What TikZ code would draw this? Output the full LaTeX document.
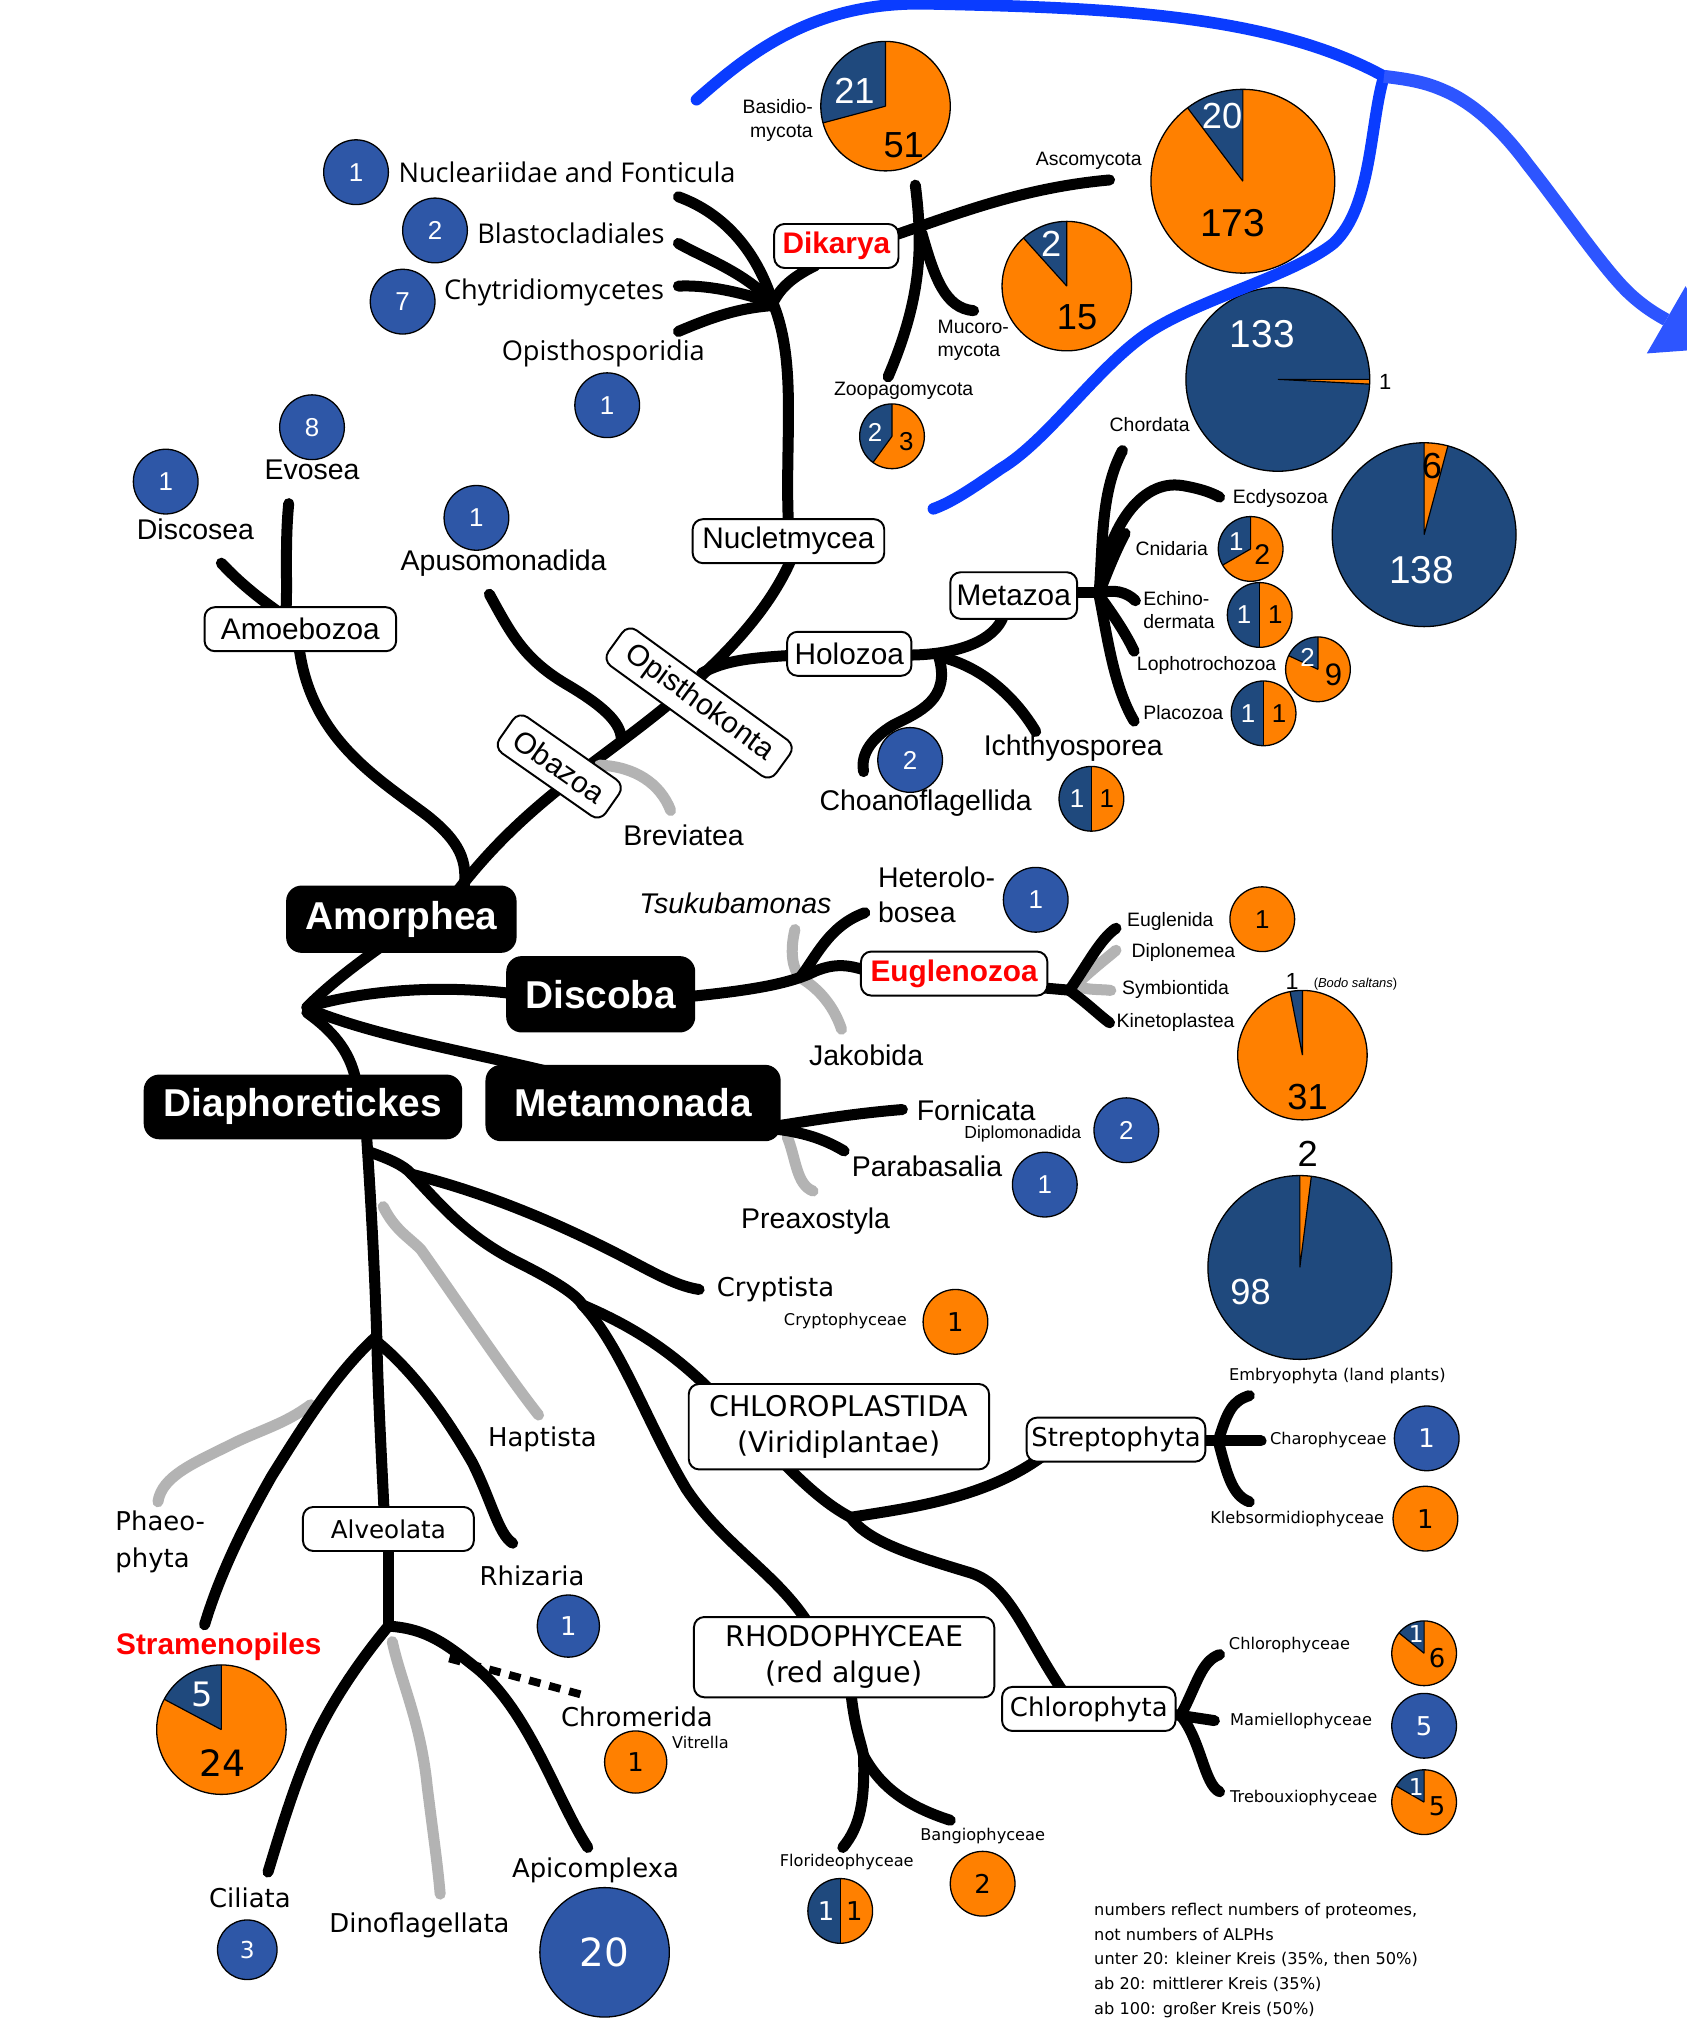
\documentclass[tikz,border=0pt]{standalone}
\usepackage{fontspec}
\setmainfont{Liberation Sans}
\newfontfamily\dvs{DejaVu Sans}
\newfontfamily\osans{Open Sans}
\definecolor{pnavy}{HTML}{1F497D}
\definecolor{pblue}{HTML}{2E57A7}
\definecolor{porange}{HTML}{FF8000}
\definecolor{lgray}{HTML}{B3B3B3}
\definecolor{abl}{HTML}{0A3CFF}
\definecolor{abl2}{HTML}{2D55FF}
\definecolor{tred}{HTML}{FF0000}
\newcommand\fsz[2]{\fontsize{#1}{#2}\selectfont}
\newcommand\mypie[5]{%
  \fill[porange] (#1,#2) circle[radius=#3pt];
  \fill[pnavy] (#1,#2) -- ++(#4:#3pt) arc[start angle=#4, end angle=#5, radius=#3pt] -- cycle;
  \draw[line width=0.9pt] (#1,#2) -- ++(#4:#3pt) (#1,#2) -- ++(#5:#3pt);
  \draw[line width=1pt] (#1,#2) circle[radius=#3pt];
}
\tikzset{
  br/.style={line width=8.5pt, line cap=round, line join=round},
  gbr/.style={br, draw=lgray},
  lbl/.style={font=\fsz{22}{26}, inner sep=0pt},
  slbl/.style={font=\fsz{15}{18}, inner sep=0pt},
  dlbl/.style={font=\dvs\fsz{20}{24}, inner sep=0pt},
  dslbl/.style={font=\dvs\fsz{12.5}{15}, inner sep=0pt},
  wbox/.style={draw, line width=1.5pt, fill=white, rounded corners=8pt, inner sep=0pt, font=\fsz{23}{26}},
  dwbox/.style={wbox, font=\dvs\fsz{20}{24}},
  bbox/.style={fill=black, rounded corners=12pt, inner sep=0pt, text=white, font=\bfseries\fsz{30}{34}},
  bc/.style={circle, fill=pblue, draw=black, line width=1pt, text=white, inner sep=0pt, minimum size=50pt, font=\fsz{20}{20}},
  oc/.style={bc, fill=porange, text=black},
  wn/.style={text=white, inner sep=0pt},
  kn/.style={text=black, inner sep=0pt},
}
\begin{document}
\begin{tikzpicture}[x=1pt,y=-1pt]
\useasboundingbox (0,0) rectangle (1303,1568);
\fill[white] (0,0) rectangle (1303,1568);

% ---------- branches (drawn first) ----------
% Fungi
\draw[br] (609,405) .. controls (606,340) and (616,280) .. (597,234);
\draw[br] (597,234) .. controls (585,195) and (560,165) .. (524,152);
\draw[br] (597,234) .. controls (575,210) and (545,200) .. (524,188);
\draw[br] (597,234) .. controls (570,225) and (545,220) .. (524,221);
\draw[br] (597,236) .. controls (570,238) and (550,245) .. (524,256);
\draw[br] (597,234) .. controls (603,222) and (612,214) .. (630,205);
\draw[br] (690,182) .. controls (740,165) and (790,145) .. (857,139);
\draw[br] (707,143) .. controls (713,190) and (712,230) .. (686,291);
\draw[br] (712,180) .. controls (722,215) and (730,238) .. (752,240);
% Opisthokonta trunk
\draw[br] (352,690) .. controls (390,640) and (430,610) .. (470,580) .. controls (510,550) and (585,495) .. (612,430);
\draw[br] (378,459) .. controls (395,490) and (405,510) .. (440,530) .. controls (470,548) and (480,560) .. (480,572);
\draw[gbr] (463,591) .. controls (490,592) and (510,605) .. (518,626);
\draw[br] (542,520) .. controls (560,510) and (580,508) .. (615,506);
\draw[br] (231,500) .. controls (240,570) and (290,600) .. (330,630) .. controls (355,650) and (362,665) .. (358,688);
\draw[br] (223,389) .. controls (220,420) and (222,450) .. (221,470);
\draw[br] (171,435) .. controls (185,450) and (200,462) .. (217,474);
% Holozoa
\draw[br] (700,506) .. controls (740,506) and (768,495) .. (775,476);
\draw[br] (725,507) .. controls (760,515) and (785,540) .. (800,565);
\draw[br] (725,507) .. controls (735,540) and (710,550) .. (690,560) .. controls (670,572) and (665,585) .. (667,596);
% Metazoa
\draw[br] (830,458) -- (849,458);
\draw[br] (849,458) .. controls (852,420) and (850,380) .. (867,348);
\draw[br] (849,458) .. controls (855,410) and (880,370) .. (913,375) .. controls (925,377) and (935,380) .. (942,384);
\draw[br] (849,458) .. controls (856,440) and (862,425) .. (869,412);
\draw[br] (849,458) .. controls (860,455) and (870,457) .. (877,464);
\draw[br] (849,460) .. controls (860,475) and (870,490) .. (876,503);
\draw[br] (849,460) .. controls (855,490) and (860,530) .. (876,557);
% Central
\draw[br] (237,778) .. controls (255,760) and (275,745) .. (296,730);
\draw[br] (237,778) .. controls (280,765) and (340,760) .. (400,768);
\draw[br] (240,780) .. controls (290,800) and (350,810) .. (425,828);
\draw[br] (237,782) .. controls (255,795) and (270,810) .. (275,835);
% Discoba
\draw[gbr] (614,718) .. controls (610,735) and (612,748) .. (618,755);
\draw[gbr] (618,755) .. controls (635,765) and (645,780) .. (650,795);
\draw[br] (530,770) .. controls (580,765) and (610,760) .. (630,750) .. controls (645,744) and (655,745) .. (670,750);
\draw[br] (618,755) .. controls (630,740) and (640,715) .. (668,705);
\draw[gbr] (832,760) .. controls (842,750) and (855,740) .. (862,734);
\draw[gbr] (832,762) .. controls (842,765) and (850,764) .. (858,765);
\draw[br] (805,763) -- (828,765);
\draw[br] (826,765) .. controls (840,745) and (850,725) .. (862,717);
\draw[br] (826,765) .. controls (840,775) and (850,785) .. (857,790);
% Metamonada
\draw[gbr] (608,878) .. controls (615,895) and (615,915) .. (628,920);
\draw[br] (598,870) .. controls (630,865) and (660,860) .. (697,857);
\draw[br] (598,872) .. controls (625,875) and (640,882) .. (652,889);
% Diaphoretickes
\draw[gbr] (296,932) .. controls (305,950) and (315,955) .. (325,965) .. controls (350,1000) and (390,1060) .. (416,1093);
\draw[gbr] (240,1085) .. controls (220,1100) and (200,1105) .. (180,1115) .. controls (150,1130) and (125,1140) .. (122,1160);
\draw[br] (283,875) .. controls (288,950) and (290,1000) .. (291,1032) .. controls (292,1080) and (295,1130) .. (297,1175);
\draw[br] (300,1190) -- (300,1256);
\draw[br] (286,890) .. controls (300,895) and (312,900) .. (318,907);
\draw[br] (318,907) .. controls (370,920) and (420,940) .. (470,965) .. controls (500,980) and (520,993) .. (540,996);
\draw[br] (318,907) .. controls (340,930) and (360,955) .. (400,975) .. controls (430,990) and (445,1000) .. (450,1008);
\draw[br] (450,1008) .. controls (490,1025) and (520,1045) .. (550,1075);
\draw[br] (450,1008) .. controls (480,1040) and (500,1100) .. (530,1150) .. controls (560,1195) and (600,1215) .. (625,1255);
\draw[br] (605,1130) .. controls (625,1150) and (640,1163) .. (657,1172);
\draw[br] (657,1172) .. controls (700,1165) and (760,1158) .. (805,1125);
\draw[br] (657,1172) .. controls (670,1190) and (700,1200) .. (750,1215) .. controls (780,1225) and (790,1260) .. (820,1305);
\draw[br] (657,1305) .. controls (660,1335) and (665,1345) .. (667,1356);
\draw[br] (667,1356) .. controls (668,1390) and (665,1410) .. (651,1427);
\draw[br] (667,1356) .. controls (680,1380) and (700,1395) .. (734,1406);
% Streptophyta bracket
\draw[br] (925,1113) -- (974,1113);
\draw[br] (941,1113) .. controls (948,1090) and (952,1082) .. (965,1078);
\draw[br] (941,1113) .. controls (948,1140) and (952,1155) .. (965,1160);
% Chlorophyta bracket
\draw[br] (905,1324) -- (938,1329);
\draw[br] (912,1325) .. controls (925,1300) and (928,1283) .. (942,1278);
\draw[br] (912,1325) .. controls (928,1345) and (930,1378) .. (942,1384);
% Stramenopiles, Rhizaria
\draw[br] (291,1032) .. controls (260,1060) and (235,1100) .. (210,1140) .. controls (190,1175) and (170,1215) .. (158,1255);
\draw[br] (292,1037) .. controls (320,1060) and (345,1095) .. (365,1130) .. controls (380,1160) and (385,1185) .. (396,1192);
% Alveolata
\draw[gbr] (303,1268) .. controls (310,1300) and (325,1330) .. (330,1380) .. controls (335,1420) and (338,1440) .. (340,1463);
\draw[br] (300,1256) .. controls (280,1280) and (255,1315) .. (240,1350) .. controls (225,1385) and (215,1420) .. (207,1446);
\draw[br] (300,1256) .. controls (330,1258) and (345,1270) .. (370,1290) .. controls (410,1325) and (430,1390) .. (454,1427);
\draw[line width=6pt, dash pattern=on 9pt off 7pt] (347,1281) -- (453,1310);

% ---------- boxes ----------
\node[wbox, minimum width=148pt, minimum height=34pt] (amoeb) at (232,486) {Amoebozoa};
\node[wbox, minimum width=148pt, minimum height=34pt] (nucl) at (609,418) {Nucletmycea};
\node[wbox, minimum width=96pt, minimum height=34pt, text=tred, font=\bfseries\fsz{23}{26}] (dik) at (646,190) {Dikarya};
\node[wbox, minimum width=96pt, minimum height=34pt] (hol) at (656,505) {Holozoa};
\node[wbox, minimum width=98pt, minimum height=36pt] (metaz) at (783,460) {Metazoa};
\node[wbox, minimum width=160pt, minimum height=34pt, rotate=-36] (opk) at (540,543) {Opisthokonta};
\node[wbox, minimum width=100pt, minimum height=34pt, rotate=-35] (oba) at (432,592) {Obazoa};
\node[wbox, minimum width=144pt, minimum height=34pt, text=tred, font=\bfseries\fsz{23}{26}] (eug) at (737,752) {Euglenozoa};
\node[dwbox, minimum width=232pt, minimum height=66pt, align=center, font=\dvs\fsz{22}{28}] (chl) at (648,1102) {CHLOROPLASTIDA\\(Viridiplantae)};
\node[dwbox, minimum width=138pt, minimum height=34pt] (strep) at (862,1112) {Streptophyta};
\node[dwbox, minimum width=132pt, minimum height=34pt, font=\dvs\fsz{19}{22}] (alv) at (300,1181) {Alveolata};
\node[dwbox, minimum width=232pt, minimum height=62pt, align=center, font=\dvs\fsz{22}{28}] (rho) at (652,1280) {RHODOPHYCEAE\\(red algue)};
\node[dwbox, minimum width=134pt, minimum height=34pt] (chlph) at (841,1320) {Chlorophyta};
\node[bbox, minimum width=178pt, minimum height=52pt] (amor) at (310,710) {Amorphea};
\node[bbox, minimum width=146pt, minimum height=59pt] (disc) at (464,768) {Discoba};
\node[bbox, minimum width=228pt, minimum height=59pt] (metam) at (489,852) {Metamonada};
\node[bbox, minimum width=246pt, minimum height=50pt] (diaph) at (234,855) {Diaphoretickes};

% ---------- labels ----------
\node[lbl, font=\osans\fsz{21}{24}] (lnuc) at (438,133) {Nucleariidae and Fonticula};
\node[lbl, font=\osans\fsz{21}{24}] (lbla) at (441,180) {Blastocladiales};
\node[lbl, font=\osans\fsz{21}{24}] (lchy) at (428,226) {Chytridiomycetes};
\node[lbl, font=\osans\fsz{21}{24}] (lops) at (466,273) {Opisthosporidia};
\node[lbl] (levo) at (241,363) {Evosea};
\node[lbl] (ldis) at (151,409) {Discosea};
\node[lbl] (lapu) at (389,435) {Apusomonadida};
\node[lbl] (lbre) at (528,645) {Breviatea};
\node[lbl] (lich) at (829,578) {Ichthyosporea};
\node[lbl] (lcho) at (715,620) {Choanoflagellida};
\node[lbl, font=\itshape\fsz{22}{26}] (ltsu) at (568,698) {Tsukubamonas};
\node[lbl, anchor=west, align=left, font=\fsz{22}{27}] (lhet) at (678,691) {Heterolo-\\bosea};
\node[lbl] (ljak) at (669,815) {Jakobida};
\node[lbl] (lfor) at (754,858) {Fornicata};
\node[slbl, font=\fsz{13.5}{16}] (ldip) at (790,876) {Diplomonadida};
\node[lbl] (lpar) at (716,901) {Parabasalia};
\node[lbl] (lpre) at (630,943) {Preaxostyla};
\node[dlbl] (lcry) at (599,996) {Cryptista};
\node[dslbl] (lcrp) at (653,1020) {Cryptophyceae};
\node[dlbl] (lhap) at (419,1112) {Haptista};
\node[dlbl, anchor=west, align=left, font=\dvs\fsz{20}{29}] (lpha) at (89,1191) {Phaeo-\\phyta};
\node[dlbl] (lrhi) at (411,1217) {Rhizaria};
\node[lbl, text=tred, font=\bfseries\fsz{23}{26}] (lstr) at (169,1272) {Stramenopiles};
\node[dlbl] (lchr) at (492,1326) {Chromerida};
\node[dslbl] (lvit) at (541,1346) {Vitrella};
\node[dlbl] (lapi) at (460,1445) {Apicomplexa};
\node[dlbl] (lcil) at (193,1466) {Ciliata};
\node[dlbl] (ldin) at (324,1487) {Dinoflagellata};
\node[dslbl] (lflo) at (654,1438) {Florideophyceae};
\node[dslbl] (lban) at (759,1418) {Bangiophyceae};
\node[dslbl] (lemb) at (1033,1063) {Embryophyta (land plants)};
\node[dslbl] (lcha) at (1026,1112) {Charophyceae};
\node[dslbl] (lkle) at (1002,1173) {Klebsormidiophyceae};
\node[dslbl] (lclp) at (996,1271) {Chlorophyceae};
\node[dslbl] (lmam) at (1005,1329) {Mamiellophyceae};
\node[dslbl] (ltre) at (1007,1389) {Trebouxiophyceae};
\node[slbl] (lasc) at (841,124) {Ascomycota};
\node[slbl, anchor=east, align=right] (lbas) at (628,93) {Basidio-\\mycota};
\node[slbl, anchor=west, align=left] (lmuc) at (724,263) {Mucoro-\\mycota};
\node[slbl] (lzoo) at (698,302) {Zoopagomycota};
\node[slbl] (lchd) at (888,328) {Chordata};
\node[slbl] (lecd) at (989,385) {Ecdysozoa};
\node[slbl] (lcni) at (905,424) {Cnidaria};
\node[slbl, anchor=west, align=left] (lech) at (883,471) {Echino-\\dermata};
\node[slbl] (llop) at (932,514) {Lophotrochozoa};
\node[slbl] (lpla) at (914,550) {Placozoa};
\node[slbl] (lgle) at (904,712) {Euglenida};
\node[slbl] (ldpl) at (914,736) {Diplonemea};
\node[slbl] (lsym) at (908,764) {Symbiontida};
\node[slbl] (lkin) at (908,790) {Kinetoplastea};
\node[slbl, font=\fsz{10}{12}] (lbod) at (1047,760) {(\textit{Bodo saltans})};
\node[dslbl, anchor=north west, align=left, font=\dvs\fsz{12.5}{19}] (notes) at (845,1470) {numbers reflect numbers of proteomes,\\not numbers of ALPHs\\unter 20: kleiner Kreis (35\%, then 50\%)\\ab 20: mittlerer Kreis (35\%)\\ab 100: gro\ss er Kreis (50\%)};

% ---------- single-value circles ----------
\node[bc] (c1) at (275,133) {1};
\node[bc] (c2) at (336,178) {2};
\node[bc] (c3) at (311,233) {7};
\node[bc] (c4) at (469,313) {1};
\node[bc] (c5) at (241,330) {8};
\node[bc] (c6) at (128,372) {1};
\node[bc] (c7) at (368,400) {1};
\node[bc] (c8) at (703,587) {2};
\node[bc] (c9) at (800,695) {1};
\node[oc] (c10) at (975,710) {1};
\node[bc] (c11) at (870,873) {2};
\node[bc] (c12) at (807,915) {1};
\node[oc, font=\dvs\fsz{20}{20}] (c13) at (738,1021) {1};
\node[bc, font=\dvs\fsz{20}{20}] (c14) at (1102,1111) {1};
\node[oc, font=\dvs\fsz{20}{20}] (c15) at (1101,1173) {1};
\node[bc, font=\dvs\fsz{20}{20}] (c16) at (1100,1333) {5};
\node[oc, font=\dvs\fsz{20}{20}] (c17) at (759,1455) {2};
\node[bc, minimum size=100pt, font=\dvs\fsz{30}{30}] (c18) at (467,1508) {20};
\node[bc, minimum size=46pt, font=\dvs\fsz{18}{18}] (c19) at (191,1506) {3};
\node[oc, minimum size=48pt, font=\dvs\fsz{20}{20}] (c20) at (491,1361) {1};
\node[bc, minimum size=48pt, font=\dvs\fsz{20}{20}] (c21) at (439,1256) {1};

% ---------- pies ----------
\mypie{684}{82}{50}{90}{195}
\node[wn, font=\fsz{28}{28}] (p1a) at (660,70) {21};
\node[kn, font=\fsz{28}{28}] (p1b) at (698,112) {51};
\mypie{960}{140}{71}{90}{127}
\node[wn, font=\fsz{28}{28}] (p2a) at (944,90) {20};
\node[kn, font=\fsz{30}{30}] (p2b) at (952,172) {173};
\mypie{824}{221}{50}{90}{132}
\node[wn, font=\fsz{28}{28}] (p3a) at (812,188) {2};
\node[kn, font=\fsz{28}{28}] (p3b) at (832,245) {15};
\mypie{689}{337}{25}{90}{234}
\node[wn, font=\fsz{20}{20}] (p4a) at (676,334) {2};
\node[kn, font=\fsz{20}{20}] (p4b) at (700,341) {3};
\mypie{987}{293}{71}{0}{357}
\node[wn, font=\fsz{30}{30}] (p5a) at (975,258) {133};
\node[kn, font=\fsz{17}{17}] (p5b) at (1070,295) {1};
\mypie{1100}{413}{71}{90}{435}
\node[kn, font=\fsz{28}{28}] (p6a) at (1106,360) {6};
\node[wn, font=\fsz{30}{30}] (p6b) at (1098,440) {138};
\mypie{966}{424}{25}{90}{210}
\node[wn, font=\fsz{20}{20}] (p7a) at (955,418) {1};
\node[kn, font=\fsz{22}{22}] (p7b) at (975,428) {2};
\mypie{973}{475}{25}{90}{270}
\node[wn, font=\fsz{20}{20}] (p8a) at (961,475) {1};
\node[kn, font=\fsz{20}{20}] (p8b) at (985,475) {1};
\mypie{1018}{517}{25}{90}{155}
\node[wn, font=\fsz{20}{20}] (p9a) at (1010,508) {2};
\node[kn, font=\fsz{24}{24}] (p9b) at (1030,521) {9};
\mypie{976}{551}{25}{90}{270}
\node[wn, font=\fsz{20}{20}] (p10a) at (964,551) {1};
\node[kn, font=\fsz{20}{20}] (p10b) at (988,551) {1};
\mypie{843}{617}{25}{90}{270}
\node[wn, font=\fsz{20}{20}] (p11a) at (832,617) {1};
\node[kn, font=\fsz{20}{20}] (p11b) at (855,617) {1};
\mypie{1006}{815}{50}{90}{101}
\node[kn, font=\fsz{28}{28}] (p12a) at (1010,847) {31};
\node[kn, font=\fsz{18}{18}] (p12b) at (998,758) {1};
\mypie{1004}{979}{71}{90}{442.8}
\node[wn, font=\fsz{28}{28}] (p13a) at (966,998) {98};
\node[kn, font=\fsz{28}{28}] (p13b) at (1010,891) {2};
\mypie{1100}{1277}{25}{90}{141}
\node[wn, font=\dvs\fsz{18}{18}] (p14a) at (1094,1262) {1};
\node[kn, font=\dvs\fsz{20}{20}] (p14b) at (1110,1281) {6};
\mypie{1100}{1392}{25}{90}{150}
\node[wn, font=\dvs\fsz{18}{18}] (p15a) at (1094,1380) {1};
\node[kn, font=\dvs\fsz{20}{20}] (p15b) at (1110,1395) {5};
\mypie{171}{1336}{50}{90}{152}
\node[wn, font=\dvs\fsz{26}{26}] (p16a) at (156,1309) {5};
\node[kn, font=\dvs\fsz{28}{28}] (p16b) at (172,1362) {24};
\mypie{649}{1476}{25}{90}{270}
\node[wn, font=\dvs\fsz{20}{20}] (p17a) at (638,1476) {1};
\node[kn, font=\dvs\fsz{20}{20}] (p17b) at (660,1476) {1};

% ---------- blue arrow ----------
\coordinate (bj) at (1069,59);
\coordinate (ab) at (1287,247);
\draw[abl, line width=9pt, line cap=round] (538,77) .. controls (580,40) and (630,0) .. (720,3) .. controls (850,6) and (980,10) .. (bj);
\draw[abl, line width=9pt, line cap=round] (bj) .. controls (1058,95) and (1060,160) .. (1030,188) .. controls (1000,212) and (930,230) .. (890,255) .. controls (850,280) and (810,340) .. (773,362) .. controls (750,378) and (735,388) .. (721,393);
\draw[abl2, line width=10pt] (bj) .. controls (1095,62) and (1105,65) .. (1120,72) .. controls (1140,82) and (1160,100) .. (1180,127) .. controls (1210,165) and (1240,210) .. (1260,228) .. controls (1270,237) and (1278,242) .. (ab);
\fill[abl2] (1302,221) -- (1326,269) -- (1272,273) -- cycle;
\end{tikzpicture}
\end{document}
